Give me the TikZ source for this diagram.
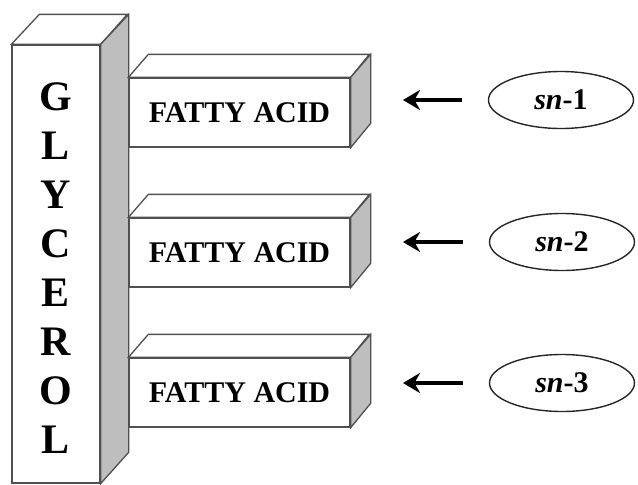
\documentclass[tikz,border=0pt]{standalone}
\usepackage{fontspec}
\setmainfont{Liberation Serif}
\usetikzlibrary{arrows.meta,shapes.geometric}
\definecolor{edgegray}{RGB}{80,80,80}
\definecolor{sidegray}{RGB}{190,190,190}

\begin{document}
\begin{tikzpicture}[x=1pt,y=-1pt,
  face/.style={draw=edgegray,line width=1.3pt,fill=white,inner sep=0pt},
  sideface/.style={draw=edgegray,line width=1.3pt,fill=sidegray},
  fa/.style={face,minimum width=221pt,minimum height=69pt,font=\fontsize{30}{36}\selectfont\bfseries},
  snpos/.style={ellipse,draw=black!85,line width=1.4pt,minimum width=145pt,minimum height=57pt,inner sep=0pt,font=\fontsize{30}{36}\selectfont\bfseries},
  arr/.style={line width=3.4pt,-{Stealth[length=17pt,width=20pt,inset=5.5pt]}}]
\useasboundingbox (0,0) rectangle (638,485);
% glycerol column
\node[face,minimum width=88pt,minimum height=438pt] (glyf) at (56,264) {};
\node[align=center,font=\fontsize{42}{49}\selectfont\bfseries] (glyc) at (56,268.5) {G\\L\\Y\\C\\E\\R\\O\\L};
\draw[face] (glyf.north west) -- ++(28,-30) -- ++(88,0) -- (glyf.north east) -- cycle;
\draw[sideface] (glyf.north east) -- ++(28,-30) -- ++(0,438) -- (glyf.south east) -- cycle;
% fatty acid bars
\node[fa] (fa1) at (239.5,112.5) {FATTY ACID};
\node[fa] (fa2) at (239.5,252.5) {FATTY ACID};
\node[fa] (fa3) at (239.5,392.5) {FATTY ACID};
\foreach \b in {fa1,fa2,fa3}{
  \draw[face] (\b.north west) -- ++(20,-23) -- ++(221,0) -- (\b.north east) -- cycle;
  \draw[sideface] (\b.north east) -- ++(20,-23) -- ++(0,69) -- (\b.south east) -- cycle;
}
% positions
\node[snpos] (sn1) at (561,100) {\textit{sn}-1};
\node[snpos] (sn2) at (562,242) {\textit{sn}-2};
\node[snpos] (sn3) at (562,383) {\textit{sn}-3};
\coordinate (tip1) at (403,100);
\coordinate (tip2) at (403,242);
\coordinate (tip3) at (403,383);
\draw[arr,shorten <=26pt] (sn1.west) -- (tip1);
\draw[arr,shorten <=26pt] (sn2.west) -- (tip2);
\draw[arr,shorten <=26pt] (sn3.west) -- (tip3);
\end{tikzpicture}
\end{document}
